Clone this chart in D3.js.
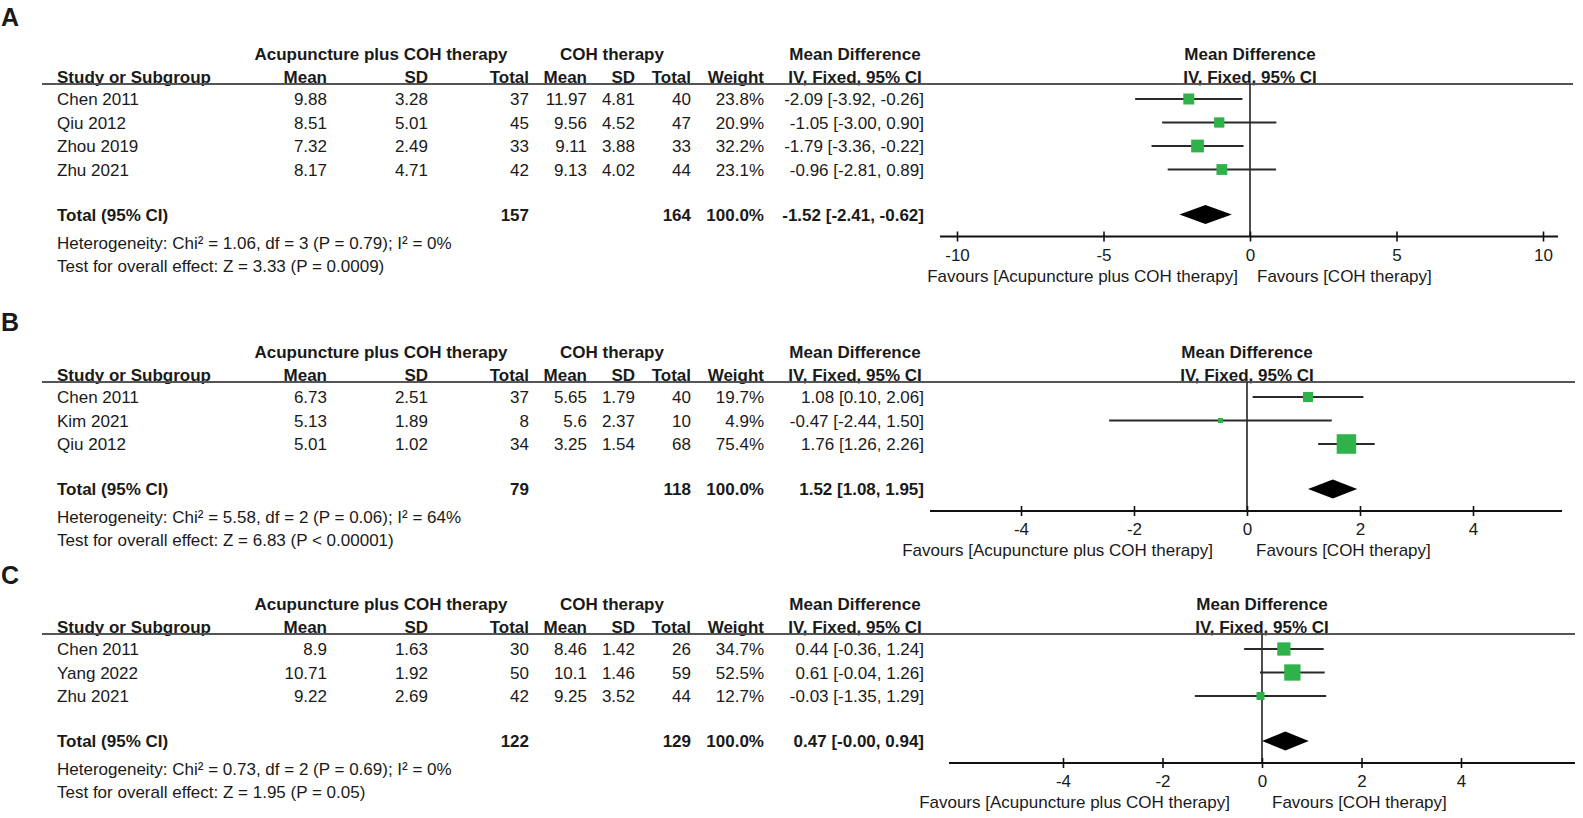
<!DOCTYPE html>
<html><head><meta charset="utf-8">
<script src="https://cdn.jsdelivr.net/npm/d3@7"></script>
<style>
body{margin:0;background:#fff}
text{font-family:"Liberation Sans",Arial,Helvetica,sans-serif;fill:#1a1a1a}
</style>
</head><body>
<svg id="chart" width="1583" height="818"></svg>
<script>
// ---------- DATA ----------
const studiesA = ["Chen 2011","Qiu 2012","Zhou 2019","Zhu 2021"];
const expMeanA = [9.88, 8.51, 7.32, 8.17];
const expSdA   = [3.28, 5.01, 2.49, 4.71];
const expNA    = [37, 45, 33, 42];
const ctlMeanA = [11.97, 9.56, 9.11, 9.13];
const ctlSdA   = [4.81, 4.52, 3.88, 4.02];
const ctlNA    = [40, 47, 33, 44];
const weightA  = [23.8, 20.9, 32.2, 23.1];
const mdA      = [-2.09, -1.05, -1.79, -0.96];
const loA      = [-3.92, -3.00, -3.36, -2.81];
const hiA      = [-0.26, 0.90, -0.22, 0.89];
const totalA   = {expN:157, ctlN:164, md:-1.52, lo:-2.41, hi:-0.62};
const hetA     = "Heterogeneity: Chi² = 1.06, df = 3 (P = 0.79); I² = 0%";
const testA    = "Test for overall effect: Z = 3.33 (P = 0.0009)";
const ticksA   = [-10, -5, 0, 5, 10];

const studiesB = ["Chen 2011","Kim 2021","Qiu 2012"];
const expMeanB = [6.73, 5.13, 5.01];
const expSdB   = [2.51, 1.89, 1.02];
const expNB    = [37, 8, 34];
const ctlMeanB = [5.65, 5.6, 3.25];
const ctlSdB   = [1.79, 2.37, 1.54];
const ctlNB    = [40, 10, 68];
const weightB  = [19.7, 4.9, 75.4];
const mdB      = [1.08, -0.47, 1.76];
const loB      = [0.10, -2.44, 1.26];
const hiB      = [2.06, 1.50, 2.26];
const totalB   = {expN:79, ctlN:118, md:1.52, lo:1.08, hi:1.95};
const hetB     = "Heterogeneity: Chi² = 5.58, df = 2 (P = 0.06); I² = 64%";
const testB    = "Test for overall effect: Z = 6.83 (P < 0.00001)";
const ticksB   = [-4, -2, 0, 2, 4];

const studiesC = ["Chen 2011","Yang 2022","Zhu 2021"];
const expMeanC = [8.9, 10.71, 9.22];
const expSdC   = [1.63, 1.92, 2.69];
const expNC    = [30, 50, 42];
const ctlMeanC = [8.46, 10.1, 9.25];
const ctlSdC   = [1.42, 1.46, 3.52];
const ctlNC    = [26, 59, 44];
const weightC  = [34.7, 52.5, 12.7];
const mdC      = [0.44, 0.61, -0.03];
const loC      = [-0.36, -0.04, -1.35];
const hiC      = [1.24, 1.26, 1.29];
const totalC   = {expN:122, ctlN:129, md:0.47, lo:-0, hi:0.94};
const hetC     = "Heterogeneity: Chi² = 0.73, df = 2 (P = 0.69); I² = 0%";
const testC    = "Test for overall effect: Z = 1.95 (P = 0.05)";
const ticksC   = [-4, -2, 0, 2, 4];

const expGroup = "Acupuncture plus COH therapy";
const ctlGroup = "COH therapy";
const favLeft  = "Favours [Acupuncture plus COH therapy]";
const favRight = "Favours [COH therapy]";

// ---------- LAYOUT ----------
const FS = 17;
const GREEN = "#2fb24a";
const svg = d3.select("#chart");

const panels = [
  {label:"A", labelY:17, lineY:84, domain:[-10,10], range:[957,1543], axisExt:[940,1558], favL:1238, favR:1257, lineR:1573,
   studies:studiesA, em:expMeanA, es:expSdA, en:expNA, cm:ctlMeanA, cs:ctlSdA, cn:ctlNA, w:weightA, md:mdA, lo:loA, hi:hiA, tot:totalA, het:hetA, test:testA, ticks:ticksA},
  {label:"B", labelY:322, lineY:382, domain:[-4,4], range:[1021,1473], axisExt:[930,1562], favL:1213, favR:1256, lineR:1575,
   studies:studiesB, em:expMeanB, es:expSdB, en:expNB, cm:ctlMeanB, cs:ctlSdB, cn:ctlNB, w:weightB, md:mdB, lo:loB, hi:hiB, tot:totalB, het:hetB, test:testB, ticks:ticksB},
  {label:"C", labelY:575, lineY:634, domain:[-4,4], range:[1063,1461], axisExt:[949,1575], favL:1230, favR:1272, lineR:1575,
   studies:studiesC, em:expMeanC, es:expSdC, en:expNC, cm:ctlMeanC, cs:ctlSdC, cn:ctlNC, w:weightC, md:mdC, lo:loC, hi:hiC, tot:totalC, het:hetC, test:testC, ticks:ticksC}
];

const fmt2 = v => ((v < 0 || Object.is(v,-0)) ? "-" : "") + Math.abs(v).toFixed(2);
const ciTxt = (m,l,h) => `${fmt2(m)} [${fmt2(l)}, ${fmt2(h)}]`;
const boxSize = d3.scaleSqrt().domain([0,100]).range([0,22.5]);

const COL = {study:57, em:327, es:428, en:529, cm:587, cs:635, cn:691, w:764, ci:924, ciC:855, expC:381, ctlC:612};

function txt(g, x, y, s, anchor, bold, size){
  return g.append("text").attr("x",x).attr("y",y).attr("text-anchor",anchor||"start")
    .attr("font-size",size||FS).attr("font-weight",bold?"bold":"normal").text(s);
}

panels.forEach(p => {
  const g = svg.append("g");
  const x = d3.scaleLinear().domain(p.domain).range(p.range);
  const step = 23.5;
  const rows = p.studies.map((s,i) => p.lineY + 15 + step*i);
  const yT = rows[rows.length-1] + 45;
  const axisY = yT + 22;

  // panel label
  txt(g, 1, p.labelY + 9, p.label, "start", true, 25);

  // group headers
  const gh = p.lineY - 24;
  txt(g, COL.expC, gh, expGroup, "middle", true);
  txt(g, COL.ctlC, gh, ctlGroup, "middle", true);
  txt(g, COL.ciC, gh, "Mean Difference", "middle", true);
  txt(g, x(0), gh, "Mean Difference", "middle", true);

  // column headers
  const ch = p.lineY - 1;
  txt(g, COL.study, ch, "Study or Subgroup", "start", true);
  txt(g, COL.em, ch, "Mean", "end", true);
  txt(g, COL.es, ch, "SD", "end", true);
  txt(g, COL.en, ch, "Total", "end", true);
  txt(g, COL.cm, ch, "Mean", "end", true);
  txt(g, COL.cs, ch, "SD", "end", true);
  txt(g, COL.cn, ch, "Total", "end", true);
  txt(g, COL.w, ch, "Weight", "end", true);
  txt(g, COL.ciC, ch, "IV, Fixed, 95% CI", "middle", true);
  txt(g, x(0), ch, "IV, Fixed, 95% CI", "middle", true);

  // header rule
  g.append("line").attr("x1",42).attr("x2",p.lineR).attr("y1",p.lineY).attr("y2",p.lineY)
    .attr("stroke","#555").attr("stroke-width",2);

  // study rows
  p.studies.forEach((s,i) => {
    const y = rows[i] + 6;
    txt(g, COL.study, y, s);
    txt(g, COL.em, y, String(p.em[i]), "end");
    txt(g, COL.es, y, p.es[i].toFixed(2), "end");
    txt(g, COL.en, y, String(p.en[i]), "end");
    txt(g, COL.cm, y, String(p.cm[i]), "end");
    txt(g, COL.cs, y, p.cs[i].toFixed(2), "end");
    txt(g, COL.cn, y, String(p.cn[i]), "end");
    txt(g, COL.w, y, p.w[i].toFixed(1) + "%", "end");
    txt(g, COL.ci, y, ciTxt(p.md[i], p.lo[i], p.hi[i]), "end");
  });

  // total row
  txt(g, COL.study, yT + 6, "Total (95% CI)", "start", true);
  txt(g, COL.en, yT + 6, String(p.tot.expN), "end", true);
  txt(g, COL.cn, yT + 6, String(p.tot.ctlN), "end", true);
  txt(g, COL.w, yT + 6, "100.0%", "end", true);
  txt(g, COL.ci, yT + 6, ciTxt(p.tot.md, p.tot.lo, p.tot.hi), "end", true);
  txt(g, COL.study, yT + 34, p.het);
  txt(g, COL.study, yT + 57, p.test);

  // zero line
  g.append("line").attr("x1",x(0)).attr("x2",x(0)).attr("y1",p.lineY).attr("y2",axisY)
    .attr("stroke","#222").attr("stroke-width",1.6);

  // CI lines and boxes
  p.studies.forEach((s,i) => {
    g.append("line").attr("x1",x(p.lo[i])).attr("x2",x(p.hi[i])).attr("y1",rows[i]).attr("y2",rows[i])
      .attr("stroke","#2a2a2a").attr("stroke-width",2);
    const b = Math.max(3, boxSize(p.w[i]));
    g.append("rect").attr("x",x(p.md[i]) - b/2).attr("y",rows[i] - b/2)
      .attr("width",b).attr("height",b).attr("fill",GREEN);
  });

  // diamond
  const dh = 9.5;
  g.append("path")
    .attr("d",`M${x(p.tot.lo)},${yT}L${x(p.tot.md)},${yT-dh}L${x(p.tot.hi)},${yT}L${x(p.tot.md)},${yT+dh}Z`)
    .attr("fill","#000");

  // axis
  const ax = g.append("g").attr("transform",`translate(0,${axisY})`)
    .call(d3.axisBottom(x).tickValues(p.ticks).tickSize(5).tickFormat(d => String(d)));
  ax.select(".domain").remove();
  ax.selectAll(".tick line").attr("y1",-5).attr("y2",5).attr("stroke","#111").attr("stroke-width",1.6);
  ax.selectAll(".tick text").attr("y",null).attr("dy",null).attr("transform","translate(0,24)")
    .attr("font-size",FS).attr("font-family",null).attr("fill","#1a1a1a");
  g.append("line").attr("x1",p.axisExt[0]).attr("x2",p.axisExt[1]).attr("y1",axisY).attr("y2",axisY)
    .attr("stroke","#111").attr("stroke-width",1.8);

  // favours labels
  txt(g, p.favL, axisY + 45, favLeft, "end");
  txt(g, p.favR, axisY + 45, favRight, "start");
});
</script>
</body></html>
